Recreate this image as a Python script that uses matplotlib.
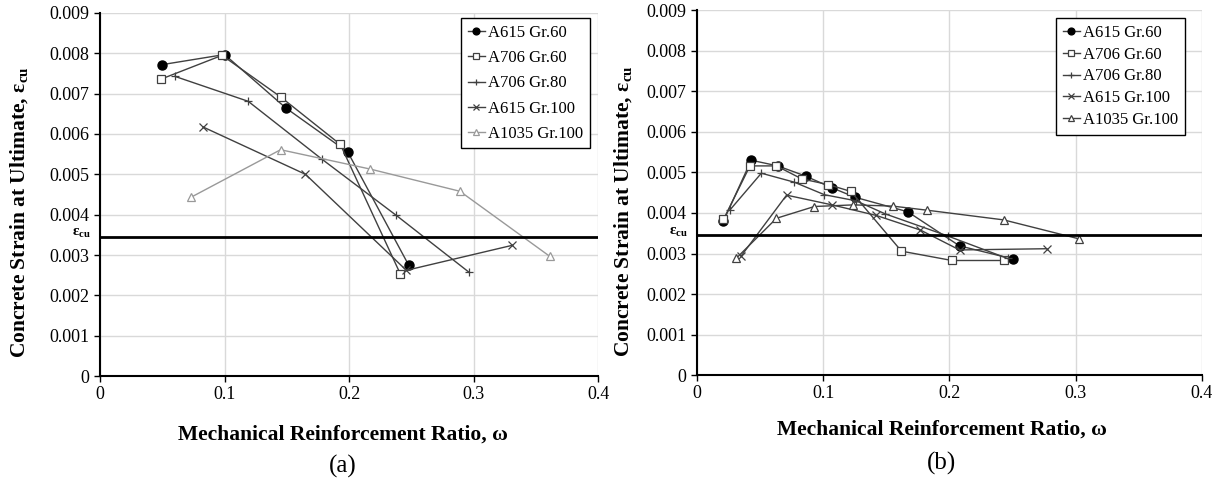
import matplotlib
matplotlib.use('Agg')
import matplotlib.pyplot as plt

plt.rcParams['font.family'] = ['Liberation Serif', 'DejaVu Serif']
plt.rcParams['mathtext.fontset'] = 'custom'
plt.rcParams['mathtext.rm'] = 'Liberation Serif'
plt.rcParams['mathtext.it'] = 'Liberation Serif:italic'
plt.rcParams['mathtext.bf'] = 'Liberation Serif:bold'

'''
 data read from the figure
'''
labels = ['A615 Gr.60', 'A706 Gr.60', 'A706 Gr.80', 'A615 Gr.100', 'A1035 Gr.100']

# (a)
a_615_60_x = [0.050, 0.100, 0.149, 0.199, 0.248]
a_615_60_y = [0.00772, 0.00797, 0.00665, 0.00555, 0.00274]
a_706_60_x = [0.049, 0.098, 0.145, 0.193, 0.241]
a_706_60_y = [0.00736, 0.00795, 0.00692, 0.00574, 0.00254]
a_706_80_x = [0.060, 0.119, 0.178, 0.238, 0.296]
a_706_80_y = [0.00743, 0.00681, 0.00538, 0.00398, 0.00258]
a_615_100_x = [0.083, 0.165, 0.246, 0.331]
a_615_100_y = [0.00617, 0.00500, 0.00262, 0.00324]
a_1035_100_x = [0.073, 0.145, 0.217, 0.289, 0.361]
a_1035_100_y = [0.00443, 0.00561, 0.00513, 0.00458, 0.00297]

# (b)
b_615_60_x = [0.021, 0.043, 0.064, 0.086, 0.107, 0.125, 0.167, 0.208, 0.250]
b_615_60_y = [0.00380, 0.00530, 0.00516, 0.00491, 0.00462, 0.00439, 0.00403, 0.00319, 0.00287]
b_706_60_x = [0.021, 0.042, 0.063, 0.083, 0.104, 0.122, 0.162, 0.202, 0.243]
b_706_60_y = [0.00384, 0.00516, 0.00516, 0.00484, 0.00470, 0.00453, 0.00306, 0.00283, 0.00283]
b_706_80_x = [0.026, 0.051, 0.077, 0.101, 0.126, 0.149, 0.199, 0.246]
b_706_80_y = [0.00407, 0.00498, 0.00476, 0.00445, 0.00430, 0.00398, 0.00343, 0.00288]
b_615_100_x = [0.035, 0.071, 0.107, 0.142, 0.177, 0.208, 0.277]
b_615_100_y = [0.00294, 0.00444, 0.00420, 0.00394, 0.00358, 0.00309, 0.00312]
b_1035_100_x = [0.031, 0.063, 0.093, 0.124, 0.155, 0.182, 0.243, 0.303]
b_1035_100_y = [0.00288, 0.00387, 0.00416, 0.00420, 0.00417, 0.00407, 0.00383, 0.00336]

ecu = 0.00345

xticks = [0, 0.1, 0.2, 0.3, 0.4]
xticklabels = ['0', '0.1', '0.2', '0.3', '0.4']
yticks = [0, 0.001, 0.002, 0.003, 0.004, 0.005, 0.006, 0.007, 0.008, 0.009]
yticklabels = ['0', '0.001', '0.002', '0.003', '0.004', '0.005', '0.006', '0.007', '0.008', '0.009']

dark = '#404040'


def draw(ax, series, tri_color, leg_font, leg_space, leg_anchor, ylab_x, xlab_x, xlab_y, tag, tag_y):
    styles = [dict(marker='o', ms=6.5, mfc='black', mec='black'),
              dict(marker='s', ms=6, mfc='white', mec=dark, mew=0.9),
              dict(marker='+', ms=6, mec=dark, mew=0.9),
              dict(marker='x', ms=5.5, mec=dark, mew=0.9),
              dict(marker='^', ms=5.5, mfc='white', mec=tri_color, mew=0.9)]
    colors = [dark, dark, dark, dark, tri_color]
    for (x, y), lab, st, c in zip(series, labels, styles, colors):
        ax.plot(x, y, color=c, lw=1.0, label=lab, **st)

    ax.axhline(ecu, color='black', lw=2)
    ax.text(-0.007, ecu + 0.00008, 'ε$_{\\mathbf{cu}}$', fontsize=11, fontweight='bold',
            ha='right', va='center')

    ax.set_xlim(0, 0.4)
    ax.set_ylim(0, 0.009)
    ax.set_xticks(xticks)
    ax.set_xticklabels(xticklabels)
    ax.set_yticks(yticks)
    ax.set_yticklabels(yticklabels)
    ax.tick_params(labelsize=13, length=4, width=1, direction='out')
    ax.tick_params(axis='x', pad=3)
    ax.grid(True, color='#d9d9d9', lw=1)
    ax.set_axisbelow(True)
    for s in ['top', 'right']:
        ax.spines[s].set_visible(False)
    for s in ['left', 'bottom']:
        ax.spines[s].set_linewidth(1.5)

    ax.set_xlabel('Mechanical Reinforcement Ratio, ω', fontsize=15.5, fontweight='bold')
    ax.xaxis.set_label_coords(xlab_x, xlab_y)
    ax.set_ylabel('Concrete Strain at Ultimate, ε$_{\\mathbf{cu}}$', fontsize=15.5,
                  fontweight='bold')
    ax.yaxis.set_label_coords(ylab_x, 0.45)
    leg = ax.legend(loc='upper right', bbox_to_anchor=leg_anchor, fontsize=leg_font,
                    frameon=True, fancybox=False, edgecolor='black', framealpha=1,
                    handlelength=1.0, handletextpad=0.2, labelspacing=leg_space,
                    borderpad=0.4, borderaxespad=0, markerscale=0.75)
    leg.get_frame().set_linewidth(1.0)
    ax.text(xlab_x, tag_y, tag, transform=ax.transAxes, fontsize=18, ha='center', va='center')


fig = plt.figure(figsize=(12.21, 4.86), dpi=100)
ax1 = fig.add_axes([0.0819, 0.2263, 0.4080, 0.7470])
ax2 = fig.add_axes([0.5708, 0.2276, 0.4136, 0.7518])

draw(ax1, [(a_615_60_x, a_615_60_y), (a_706_60_x, a_706_60_y), (a_706_80_x, a_706_80_y),
           (a_615_100_x, a_615_100_y), (a_1035_100_x, a_1035_100_y)],
     '#999999', 12, 0.55, (0.983, 0.985), -0.140, 0.488, -0.135, '(a)', -0.25)
draw(ax2, [(b_615_60_x, b_615_60_y), (b_706_60_x, b_706_60_y), (b_706_80_x, b_706_80_y),
           (b_615_100_x, b_615_100_y), (b_1035_100_x, b_1035_100_y)],
     dark, 12, 0.35, (0.966, 0.978), -0.125, 0.485, -0.122, '(b)', -0.24)

fig.savefig('out.png', dpi=100)
